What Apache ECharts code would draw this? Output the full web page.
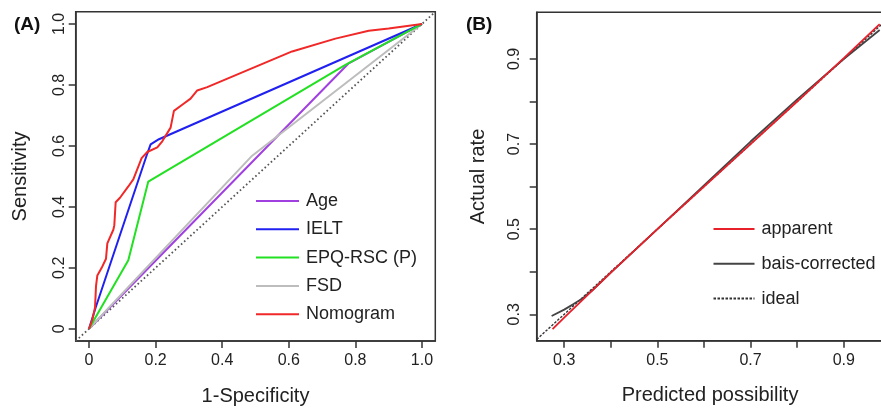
<!DOCTYPE html>
<html>
<head>
<meta charset="utf-8">
<script src="https://cdn.jsdelivr.net/npm/echarts@6/dist/echarts.min.js"></script>
<style>html,body{margin:0;padding:0;background:#fff}#c{width:881px;height:408px}</style>
</head>
<body>
<div id="c"></div>
<script>
// ---------- Panel A: ROC curves ----------
const rocTicks = [0, 0.2, 0.4, 0.6, 0.8, 1.0];
const ageX = [0, 0.78, 1];
const ageY = [0, 0.871, 1];
const ieltX = [0, 0.02, 0.175, 0.185, 0.21, 1];
const ieltY = [0, 0.07, 0.575, 0.605, 0.622, 1];
const epqX = [0, 0.118, 0.178, 0.77, 1];
const epqY = [0, 0.225, 0.483, 0.866, 1];
const fsdX = [0, 0.49, 1];
const fsdY = [0, 0.568, 1];
const nomoX = [0, 0.01, 0.018, 0.021, 0.025, 0.038, 0.051, 0.055, 0.073, 0.076, 0.08, 0.093, 0.118, 0.133, 0.158, 0.175, 0.205, 0.22, 0.245, 0.255, 0.28, 0.305, 0.325, 0.355, 0.61, 0.74, 0.84, 0.9, 1];
const nomoY = [0, 0.03, 0.07, 0.14, 0.175, 0.2, 0.23, 0.28, 0.325, 0.34, 0.415, 0.43, 0.467, 0.49, 0.56, 0.58, 0.595, 0.615, 0.66, 0.715, 0.735, 0.755, 0.782, 0.793, 0.91, 0.952, 0.978, 0.985, 1];
const refAX = [-0.04, 1.04];
const refAY = [-0.04, 1.04];

// ---------- Panel B: calibration ----------
const calXTicks = [0.3, 0.4, 0.5, 0.6, 0.7, 0.8, 0.9];
const calXLabels = [0.3, 0.5, 0.7, 0.9];
const calYTicks = [0.3, 0.4, 0.5, 0.6, 0.7, 0.8, 0.9];
const calYLabels = [0.3, 0.5, 0.7, 0.9];
const appX = [0.275, 0.3, 0.35, 0.4, 0.5, 0.6, 0.7, 0.8, 0.9, 0.977];
const appY = [0.265, 0.292, 0.345, 0.398, 0.5, 0.6, 0.7, 0.8, 0.902, 0.982];
const biasX = [0.273, 0.3, 0.32, 0.34, 0.36, 0.4, 0.5, 0.6, 0.7, 0.8, 0.9, 0.977];
const biasY = [0.296, 0.311, 0.324, 0.338, 0.356, 0.398, 0.5, 0.603, 0.706, 0.805, 0.9, 0.968];
const idealX = [0.241, 1.0];
const idealY = [0.241, 1.0];

const pairs = (xs, ys) => xs.map((x, i) => [x, ys[i]]);
const FONT = 'Liberation Sans, Arial, sans-serif';
const TXT = '#222';

function axisCommon() {
  return {
    type: 'value',
    splitLine: { show: false },
    axisLine: { show: true, onZero: false, lineStyle: { color: '#333', width: 1.5 } },
    axisTick: { show: true, inside: false, length: 7, lineStyle: { color: '#333', width: 1.5 } },
    axisLabel: { color: TXT, fontSize: 16, fontFamily: FONT },
    nameTextStyle: { color: TXT, fontSize: 20, fontFamily: FONT },
    nameLocation: 'middle'
  };
}

const fmtA = v => (Math.abs(v) < 1e-9 ? '0' : v.toFixed(1));
const fmtB = v => v.toFixed(1);

const lineS = (name, data, color, xi, width, type, z) => ({
  name, type: 'line', data, xAxisIndex: xi, yAxisIndex: xi,
  symbol: 'none', smooth: false, silent: true, z: z || 2,
  lineStyle: { color, width: width || 2, type: type || 'solid' },
  itemStyle: { color }
});

const legendCommon = {
  orient: 'vertical', itemHeight: 14, padding: 0, selectedMode: false,
  itemStyle: { opacity: 0, borderWidth: 0 },
  textStyle: { fontSize: 18, lineHeight: 18, color: TXT, fontFamily: FONT, padding: [0, 0, 0, 2] }
};

const option = {
  animation: false,
  backgroundColor: '#fff',
  title: [
    { text: '(A)', left: 9, top: 10, textStyle: { fontSize: 19, fontWeight: 'bold', color: '#111', fontFamily: FONT } },
    { text: '(B)', left: 461, top: 10, textStyle: { fontSize: 19, fontWeight: 'bold', color: '#111', fontFamily: FONT } }
  ],
  grid: [
    { left: 75.7, top: 11.8, width: 359.6, height: 329.2, show: true, borderColor: '#333', borderWidth: 1.5, backgroundColor: 'transparent', containLabel: false, outerBoundsMode: 'none' },
    { left: 536.7, top: 12.3, width: 346.7, height: 328.4, show: true, borderColor: '#333', borderWidth: 1.5, backgroundColor: 'transparent', containLabel: false, outerBoundsMode: 'none' }
  ],
  xAxis: [
    Object.assign(axisCommon(), {
      gridIndex: 0, min: -0.04, max: 1.04, name: '1-Specificity', nameGap: 45,
      axisTick: Object.assign(axisCommon().axisTick, { customValues: rocTicks }),
      axisLabel: Object.assign(axisCommon().axisLabel, { customValues: rocTicks, formatter: fmtA, margin: 12 })
    }),
    Object.assign(axisCommon(), {
      gridIndex: 1, min: 0.241, max: 0.985, name: 'Predicted possibility', nameGap: 45,
      axisTick: Object.assign(axisCommon().axisTick, { customValues: calXTicks }),
      axisLabel: Object.assign(axisCommon().axisLabel, { customValues: calXLabels, formatter: fmtB, margin: 12 })
    })
  ],
  yAxis: [
    Object.assign(axisCommon(), {
      gridIndex: 0, min: -0.04, max: 1.04, name: 'Sensitivity', nameGap: 45,
      axisTick: Object.assign(axisCommon().axisTick, { customValues: rocTicks }),
      axisLabel: Object.assign(axisCommon().axisLabel, { customValues: rocTicks, formatter: fmtA, rotate: 90, margin: 8 })
    }),
    Object.assign(axisCommon(), {
      gridIndex: 1, min: 0.238, max: 1.0097, name: 'Actual rate', nameGap: 48,
      axisTick: Object.assign(axisCommon().axisTick, { customValues: calYTicks }),
      axisLabel: Object.assign(axisCommon().axisLabel, { customValues: calYLabels, formatter: fmtB, rotate: 90, margin: 14 })
    })
  ],
  legend: [
    Object.assign({}, legendCommon, {
      data: ['Age', 'IELT', 'EPQ-RSC (P)', 'FSD', 'Nomogram'],
      left: 255, top: 192, itemWidth: 43, itemGap: 10.3
    }),
    Object.assign({}, legendCommon, {
      data: ['apparent', 'bais-corrected', 'ideal'],
      left: 712.5, top: 220, itemWidth: 41, itemGap: 16.8
    })
  ],
  series: [
    lineS('ref', pairs(refAX, refAY), '#555', 0, 1.8, [1.6, 2.6], 1),
    lineS('Age', pairs(ageX, ageY), '#a040e0', 0, 2),
    lineS('FSD', pairs(fsdX, fsdY), '#bdbdbd', 0, 2),
    lineS('IELT', pairs(ieltX, ieltY), '#2020f0', 0, 2),
    lineS('EPQ-RSC (P)', pairs(epqX, epqY), '#22e022', 0, 2),
    lineS('Nomogram', pairs(nomoX, nomoY), '#f02828', 0, 2),
    lineS('ideal', pairs(idealX, idealY), '#333', 1, 1.4, [2.5, 1.5], 1),
    lineS('bais-corrected', pairs(biasX, biasY), '#444', 1, 1.8),
    lineS('apparent', pairs(appX, appY), '#e8202a', 1, 1.8, 'solid', 3)
  ]
};

const chart = echarts.init(document.getElementById('c'), null, { renderer: 'canvas' });
chart.setOption(option);
</script>
</body>
</html>
